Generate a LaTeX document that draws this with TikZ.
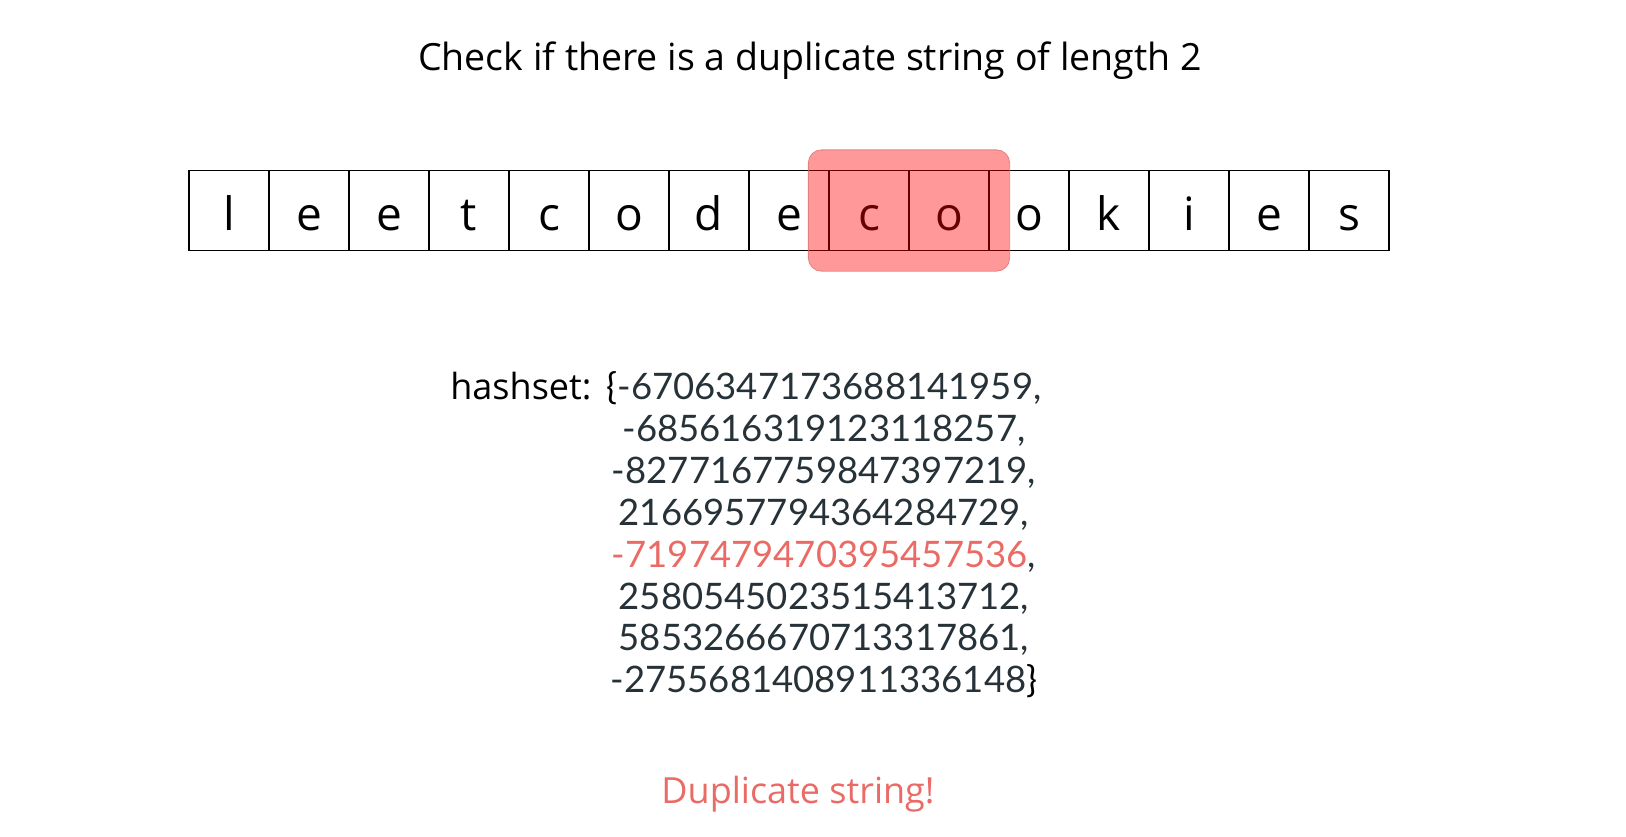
\documentclass[tikz,border=0pt]{standalone}
\usepackage{fontspec}
\setmainfont{Open Sans}
\newfontfamily\numfont{Lato}
\usetikzlibrary{positioning,fit}
\definecolor{numgray}{HTML}{263238}
\definecolor{dupred}{HTML}{EA6B66}
\definecolor{hlline}{HTML}{D9706F}

\begin{document}
\begin{tikzpicture}[x=1pt, y=-1pt, node distance={80pt}, cell/.style = {draw, line width=1.3pt, minimum size=80pt, inner sep=0pt, text height=39pt, text depth=0pt, font=\fontsize{46}{46}\selectfont}, num/.style = {anchor=base, font=\numfont\fontsize{36.5}{36.5}\selectfont, text=numgray}]
        \useasboundingbox (0,0) rectangle (1626,836);
        \node[anchor=base, font=\fontsize{37.5}{37.5}\selectfont] (title) at (810,70) {Check if there is a duplicate string of length 2};
        \node[cell] (1) at (229,210.5) {l};
        \node[cell] [right of=1] (2) {e};
        \node[cell] [right of=2] (3) {e};
        \node[cell] [right of=3] (4) {t};
        \node[cell] [right of=4] (5) {c};
        \node[cell] [right of=5] (6) {o};
        \node[cell] [right of=6] (7) {d};
        \node[cell] [right of=7] (8) {e};
        \node[cell] [right of=8] (9) {c};
        \node[cell] [right of=9] (10) {o};
        \node[cell] [right of=10] (11) {o};
        \node[cell] [right of=11] (12) {k};
        \node[cell] [right of=12] (13) {i};
        \node[cell] [right of=13] (14) {e};
        \node[cell] [right of=14] (15) {s};
        \node[fit=(9)(10), inner sep=20pt, rounded corners=13pt, fill=red, fill opacity=0.4, draw=hlline, draw opacity=0.8, line width=0.8pt] (hl) {};
        \node[num] (l1) at (824,399.5) {\textcolor{black}{\{}-6706347173688141959,};
        \node[num] (l2) at (824,441.4) {-685616319123118257,};
        \node[num] (l3) at (824,483.3) {-8277167759847397219,};
        \node[num] (l4) at (824,525.2) {2166957794364284729,};
        \node[num] (l5) at (824,567.1) {\textcolor{dupred}{-7197479470395457536},};
        \node[num] (l6) at (824,609) {2580545023515413712,};
        \node[num] (l7) at (824,650.9) {5853266670713317861,};
        \node[num] (l8) at (824,692.8) {-2755681408911336148\textcolor{black}{\}}};
        \node[anchor=base east, font=\fontsize{36}{36}\selectfont] (hs) at ([xshift=-8pt]l1.base west) {hashset:};
        \node[anchor=base, text=dupred, font=\fontsize{36}{36}\selectfont] (dup) at (798,803) {Duplicate string!};
    \end{tikzpicture}
\end{document}
